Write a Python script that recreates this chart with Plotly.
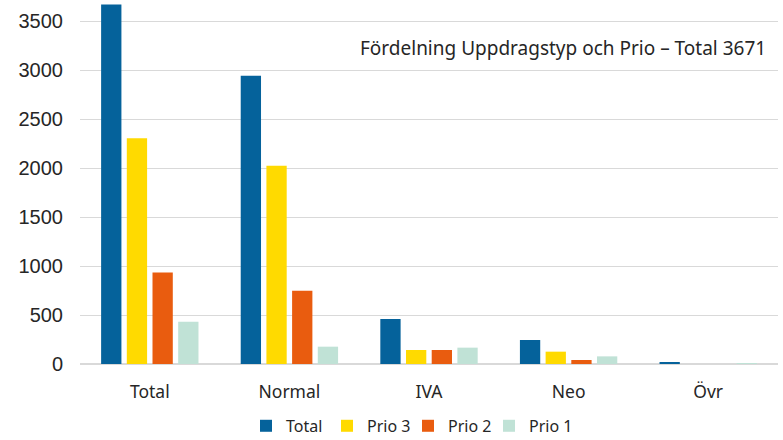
import plotly.graph_objects as go

categories = ["Total", "Normal", "IVA", "Neo", "Övr"]
series_names = ["Total", "Prio 3", "Prio 2", "Prio 1"]
total_vals = [3671, 2945, 459, 245, 12]
prio3_vals = [2305, 2024, 143, 126, 0]
prio2_vals = [934, 748, 143, 41, 0]
prio1_vals = [432, 177, 167, 78, 10]
colors = ["#05629B", "#FFDA00", "#E95C0F", "#C0E2D6"]
y_ticks = [0, 500, 1000, 1500, 2000, 2500, 3000, 3500]
title_text = "Fördelning Uppdragstyp och Prio – Total 3671"

fig = go.Figure()
for name, vals, col in zip(series_names, [total_vals, prio3_vals, prio2_vals, prio1_vals], colors):
    fig.add_trace(go.Bar(x=categories, y=vals, name=name,
                         marker=dict(color=col, line=dict(width=0))))

fig.update_layout(
    width=783, height=440,
    margin=dict(l=80, r=5, t=0, b=76, autoexpand=False),
    paper_bgcolor="white", plot_bgcolor="white",
    barmode="group", bargap=0.264, bargroupgap=0.21,
    showlegend=True,
    legend=dict(orientation="h", x=(246 - 80) / 698, xanchor="left", y=-0.17, yanchor="middle",
                entrywidth=36, entrywidthmode="pixels",
                font=dict(family="Noto Sans", size=16, color="#262626"),
                traceorder="normal"),
    xaxis=dict(showgrid=False, showline=True, linecolor="#D9D9D9", linewidth=1,
               tickfont=dict(family="Noto Sans", size=17.5, color="#262626"),
               ticks="", ticklabelstandoff=12),
    yaxis=dict(range=[0, 3718], tickvals=y_ticks, showgrid=True, gridcolor="#D9D9D9",
               gridwidth=1, zeroline=True, zerolinecolor="#D9D9D9", showline=False,
               tickfont=dict(family="Liberation Sans", size=20, color="#262626"),
               ticks="", ticklabelstandoff=16),
    annotations=[dict(text=title_text, xref="paper", yref="paper",
                      x=(563 - 80) / 698, y=(364 - 48) / 364, xanchor="center", yanchor="middle",
                      showarrow=False,
                      font=dict(family="Noto Sans", size=19, color="#262626"))],
)

fig.write_html("out.html", config={"displayModeBar": False},
               post_script="document.body.style.margin='0';document.body.style.padding='0';")
